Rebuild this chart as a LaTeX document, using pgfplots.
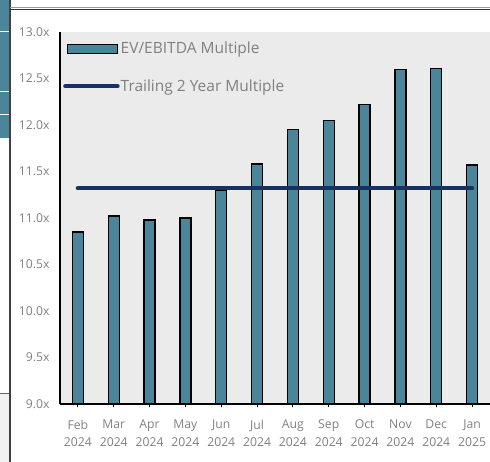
\documentclass[border=0pt]{standalone}
\usepackage{pgfplots}
\pgfplotsset{compat=1.18}
\usepackage{fontspec}
\setmainfont{Open Sans}
\definecolor{barc}{HTML}{4A8599}
\definecolor{linec}{HTML}{17325E}
\definecolor{bgc}{HTML}{EBEBEB}
\definecolor{txt}{HTML}{808080}
\begin{document}
\begin{tikzpicture}
\useasboundingbox (0pt,0pt) rectangle (490pt,462pt);
% surrounding frame of the page
\fill[barc] (0pt,462pt) rectangle (9pt,324pt);
\draw[white,line width=1pt] (0pt,430pt) -- (9pt,430pt);
\draw[white,line width=1pt] (0pt,370pt) -- (9pt,370pt);
\draw[white,line width=1pt] (0pt,347pt) -- (9pt,347pt);
\fill[black!5] (0pt,0pt) rectangle (9pt,69pt);
\draw[black!60,line width=0.8pt] (0pt,69pt) -- (9pt,69pt);
\draw[black!75,line width=1.3pt] (10pt,0pt) -- (10pt,462pt);
\draw[black!40,line width=0.8pt] (10pt,454.5pt) -- (490pt,454.5pt);
\draw[black!80,line width=1pt] (10pt,452.5pt) -- (490pt,452.5pt);
\begin{axis}[
  at={(60pt,58pt)}, anchor=south west,
  scale only axis, width=430pt, height=372pt,
  axis background/.style={fill=bgc},
  axis lines*=left,
  axis line style={black,line width=1.2pt},
  xmin=-0.5, xmax=11.5, ymin=9, ymax=13,
  xtick={0,...,11},
  xticklabels={{Feb\\2024},{Mar\\2024},{Apr\\2024},{May\\2024},{Jun\\2024},{Jul\\2024},{Aug\\2024},{Sep\\2024},{Oct\\2024},{Nov\\2024},{Dec\\2024},{Jan\\2025}},
  xticklabel style={align=center,text=txt,font=\fontsize{12.2}{17.5}\selectfont,yshift=-9pt},
  x tick style={black,line width=1pt},
  xtick align=outside,
  major tick length=3.5pt,
  ytick={9,9.5,10,10.5,11,11.5,12,12.5,13},
  y tick style={draw=none},
  yticklabel={\pgfmathprintnumber[fixed,fixed zerofill,precision=1,assume math mode=true]{\tick}x},
  yticklabel style={text=txt,font=\fontsize{12.2}{14}\selectfont,xshift=-7pt},
  legend style={at={(0,1)},anchor=north west,draw=none,fill=none,
    font=\fontsize{15.5}{17}\selectfont,text=txt,row sep=20pt,
    xshift=0pt,yshift=-6pt},
  legend cell align=left,
]
\addplot[ybar,bar width=11pt,fill=barc,draw=black,line width=1.3pt,
  legend image code/.code={\draw[fill=barc,draw=black,line width=1.3pt] (2pt,-4.5pt) rectangle (52pt,4.5pt);}]
coordinates {(0,10.85) (1,11.02) (2,10.98) (3,11.0) (4,11.30) (5,11.58) (6,11.95) (7,12.05) (8,12.22) (9,12.60) (10,12.61) (11,11.57)};
\addlegendentry{\hspace{-1pt}EV/EBITDA Multiple}
\addplot[linec,line width=4.5pt,line cap=round,mark=none,
  legend image code/.code={\draw[linec,line width=4.5pt,line cap=round] (0pt,0pt) -- (52pt,0pt);}]
coordinates {(0,11.32) (1,11.32) (2,11.32) (3,11.32) (4,11.32) (5,11.32) (6,11.32) (7,11.32) (8,11.32) (9,11.32) (10,11.32) (11,11.32)};
\addlegendentry{\hspace{-1pt}Trailing 2 Year Multiple}
\end{axis}
\end{tikzpicture}
\end{document}
